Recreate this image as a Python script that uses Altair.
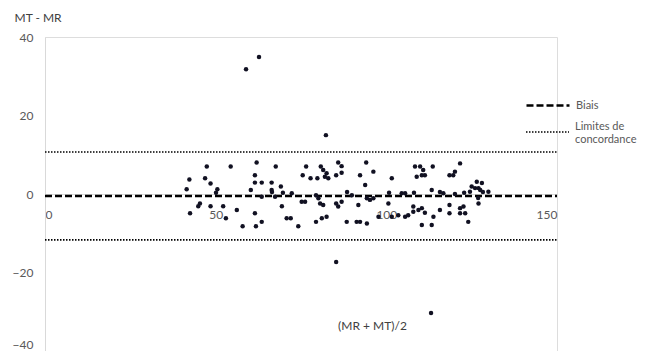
import altair as alt
import pandas as pd

# Scatter data: mean (MR+MT)/2 and difference MT-MR
pt_x = [58.9, 62.7, 82.3, 85.3, 113.1,
        47.4, 54.4, 42.3, 46.9, 48.5, 41.5, 50.5, 50.1, 45.4, 44.9, 42.5, 48.5, 52.2, 53.0, 56.2,
        62.0, 67.6, 61.5, 61.5, 63.5, 66.4, 69.1, 66.4, 60.3, 76.5, 75.5, 77.8, 79.8, 80.8, 81.5,
        82.5, 82.0, 83.0, 63.5, 67.4, 72.3, 79.4, 80.1, 75.2, 76.2, 80.6, 81.5, 69.4, 61.5, 63.5,
        61.8, 57.9, 70.8, 72.0, 74.2, 79.4, 81.1, 82.5,
        85.9, 86.9, 85.3, 86.9, 94.1, 92.3, 96.2, 93.8, 101.6, 85.3, 85.9, 86.9, 89.9, 94.3, 95.2,
        96.2, 91.8, 100.6, 88.4, 91.3, 92.3, 94.3, 97.7, 101.6, 103.5, 105.5, 106.4, 107.9, 109.4,
        104.5, 105.5,
        108.4, 109.9, 110.8, 110.4, 108.9, 111.3, 113.6, 121.6, 118.5, 119.6, 120.1, 126.5, 125.0,
        126.0, 127.0, 113.3, 124.5, 129.9, 127.0, 116.7, 107.9, 110.4, 111.3, 115.7, 118.5, 118.5,
        121.6, 122.6, 121.6, 123.1, 124.0, 113.8, 110.4, 113.3,
        66.5, 69.7, 88.5, 100.8, 108.1, 115.7, 120.1, 122.8, 128.0, 127.5, 128.3, 126.9]
pt_y = [31.8, 34.9, 15.0, -17.3, -30.3,
        7.0, 7.0, 3.7, 4.0, 2.7, 1.2, 1.2, 0.3, -2.4, -3.1, -4.9, -3.1, -3.1, -6.2, -4.1,
        8.0, 7.0, 4.8, 2.9, 2.9, 2.9, 1.9, 1.0, 1.0, 7.0, 4.8, 4.0, 4.0, 7.0, 6.1,
        5.3, 4.4, 4.0, -0.7, -0.7, 0.2, -0.3, -1.1, -2.0, -2.0, -2.4, -2.8, -3.1, -4.9, -7.1,
        -8.2, -8.2, -6.2, -6.2, -8.2, -7.1, -6.2, -5.8,
        8.0, 7.1, 4.8, 5.4, 8.0, 4.8, 5.7, 2.3, 4.0, -2.4, -3.2, -2.0, -0.3, -1.1, -1.5,
        -1.1, -2.8, -2.4, -7.1, -7.1, -7.1, -7.5, -5.8, -5.8, -5.4, -5.8, -5.4, -4.5, -4.1,
        0.2, 0.2,
        7.0, 7.0, 6.1, 4.8, 4.4, 4.8, 7.0, 7.8, 4.8, 4.8, 5.7, 3.1, 1.9,
        1.5, 1.5, 1.0, 0.6, 0.6, -2.4, 0.2, -3.2, -3.6, -4.8, -4.1, -2.8, -4.9,
        -3.6, -3.2, -4.9, -4.9, -7.1, -5.8, -7.9, -7.9,
        0.5, 0.3, 0.5, 0.3, 0.3, 0.5, 0.0, 0.3, 2.8, 1.0, 0.5, -1.0]

# Bias and limits of agreement
line_labels = ["Biais", "Limites de concordance", "Limites de concordance"]
line_values = [-0.5, 10.7, -11.7]
line_x0 = [0, 0, 0]
line_x1 = [150, 150, 150]

x_ticks = [0, 50, 100, 150]
y_ticks = [-40, -20, 0, 20, 40]

pts = pd.DataFrame({"x": pt_x, "y": pt_y})
lines = pd.DataFrame({"label": line_labels, "kind": line_labels, "v": line_values,
                      "x0": line_x0, "x1": line_x1})

FONT = "Lato"
GRAY = "#595959"
CATS = ["Biais", "Limites de concordance"]

xscale = alt.Scale(domain=[0, 150], nice=False, zero=False)
yscale = alt.Scale(domain=[-40, 40], nice=False)

points = alt.Chart(pts).mark_circle(size=20, color="#111122", opacity=1).encode(
    x=alt.X("x:Q", scale=xscale,
            axis=alt.Axis(values=x_ticks, title="(MR + MT)/2", offset=-157, ticks=False,
                          grid=False, domainColor="#d9d9d9", labelPadding=15,
                          labelColor=GRAY, labelFont=FONT, labelFontSize=12,
                          titleFont=FONT, titleFontSize=12, titleColor="#404040",
                          titleFontWeight="normal", titleX=327, titleY=131,
                          titleBaseline="middle", titleAlign="center")),
    y=alt.Y("y:Q", scale=yscale,
            axis=alt.Axis(values=y_ticks, title="MT - MR", ticks=False, grid=False,
                          domainColor="#d9d9d9", labelPadding=12,
                          labelColor=GRAY, labelFont=FONT, labelFontSize=12,
                          labelBaseline={"condition": {"test": "datum.value == -40",
                                                       "value": "bottom"},
                                         "value": "middle"},
                          titleFont=FONT, titleFontSize=12, titleColor="#404040",
                          titleFontWeight="normal", titleAngle=0, titleAlign="left",
                          titleBaseline="middle", titleX=-31, titleY=-20)),
)

common_legend = dict(title=None, orient="none", symbolType="stroke", symbolSize=1850,
                     symbolStrokeColor="black", labelFont=FONT, labelFontSize=11,
                     labelColor=GRAY, labelOffset=5)

rules = alt.Chart(lines).mark_rule(color="black").encode(
    x=alt.X("x0:Q", scale=xscale),
    x2="x1:Q",
    y=alt.Y("v:Q", scale=yscale),
    strokeDash=alt.StrokeDash(
        "label:N",
        scale=alt.Scale(domain=CATS, range=[[7, 3], [1.5, 1.5]]),
        legend=alt.Legend(values=["Biais"], legendX=480, legendY=45.5,
                          symbolStrokeWidth=2.6, labelBaseline="middle", **common_legend),
    ),
    strokeWidth=alt.StrokeWidth(
        "kind:N",
        scale=alt.Scale(domain=CATS[::-1], range=[1.6, 2.6]),
        legend=alt.Legend(values=["Limites de concordance"], legendX=480, legendY=72.5,
                          symbolDash=[1.5, 1.5], labelBaseline="bottom",
                          labelExpr="['Limites de', 'concordance']", **common_legend),
    ),
)

chart = alt.layer(rules, points).properties(
    width=512, height=314,
    autosize=alt.AutoSizeParams(type="none"),
    padding={"left": 37, "top": 29, "right": 84, "bottom": 0},
).configure_view(stroke=None).configure(font=FONT)

chart.save("out.html", embed_options={"renderer": "svg", "actions": False})
